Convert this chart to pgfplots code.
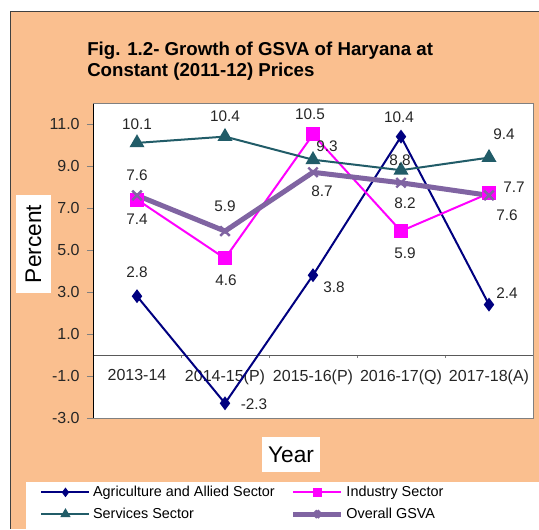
\documentclass[border=0pt]{standalone}
\usepackage{pgfplots}
\pgfplotsset{compat=1.18}
\usepackage{fontspec}
\setmainfont{Liberation Sans}
\definecolor{peach}{RGB}{250,191,143}
\definecolor{agri}{RGB}{0,0,128}
\definecolor{ind}{RGB}{255,0,255}
\definecolor{serv}{RGB}{33,92,104}
\definecolor{overall}{RGB}{128,100,162}

\pgfplotstableread{
x y dx dy
0 2.8 0 24
1 -2.3 29 -1
2 3.8 21 -12
3 10.4 -2 19
4 2.4 18 11
}\agri
\pgfplotstableread{
x y dx dy
0 7.4 0 -20
1 4.6 1 -22
2 10.5 -3 20
3 5.9 4 -22
4 7.7 25 6
}\ind
\pgfplotstableread{
x y dx dy
0 10.1 0 19
1 10.4 0 20
2 9.3 14 13
3 8.8 -1 10
4 9.4 15 23
}\serv
\pgfplotstableread{
x y dx dy
0 7.6 0 20
1 5.9 0 25
2 8.7 9 -19
3 8.2 4 -20
4 7.6 18 -20
}\overall

\pgfplotsset{
  lbl/.style={
    nodes near coords={\pgfmathprintnumber[fixed,fixed zerofill,precision=1,assume math mode=true]{\pgfplotspointmeta}},
    visualization depends on={\thisrow{dx} \as \dx},
    visualization depends on={\thisrow{dy} \as \dy},
    every node near coord/.style={anchor=center, inner sep=0pt, xshift={\dx*0.75pt}, yshift={\dy*0.75pt},
      font=\fontsize{11.5}{13}\selectfont, text=black!85}}
}

\begin{document}
\begin{tikzpicture}[x=0.75pt,y=0.75pt]
\useasboundingbox (0,0) rectangle (539,529);
\fill[peach] (10,0) rectangle (539,517);
\draw[black!75, line width=0.75pt] (10,0) -- (10,517) -- (539,517);
\node[font=\fontsize{14}{16}\selectfont\bfseries, anchor=base west, inner sep=0pt] at (87,473) {Fig. 1.2- Growth of GSVA of Haryana at};
\node[font=\fontsize{14}{16}\selectfont\bfseries, anchor=base west, inner sep=0pt] at (87,452) {Constant (2011-12) Prices};
\fill[white] (26,0) rectangle (539,47);
\fill[white] (16,236) rectangle (51,334);
\fill[white] (262,57) rectangle (320,92);
\node[rotate=90, font=\fontsize{17}{20}\selectfont] at (33.5,285) {Percent};
\node[font=\fontsize{17}{20}\selectfont] at (291,74.5) {Year};

\begin{axis}[
  at={(69.75pt,83.25pt)}, anchor=south west,
  width=330pt, height=236.25pt, scale only axis,
  xmin=-0.5, xmax=4.5, ymin=-3, ymax=12,
  axis x line*=middle, axis y line*=left,
  x axis line style={black!65}, y axis line style={black},
  xtick={0,...,4},
  xticklabels={2013-14,2014-15(P),2015-16(P),2016-17(Q),2017-18(A)},
  major x tick style={draw=none},
  minor xtick={0.5,1.5,2.5,3.5},
  minor tick length=2.25pt, major tick length=4.5pt,
  ytick={-3,-1,...,11},
  yticklabel style={xshift=-2pt, /pgf/number format/.cd, fixed, fixed zerofill, precision=1, assume math mode=true},
  xticklabel style={yshift=-3pt},
  tick align=outside,
  tick label style={font=\fontsize{12}{14}\selectfont, text=black!85},
  axis background/.style={fill=white},
  clip=false,
  legend columns=2,
  legend cell align=left,
  legend style={at={(axis description cs:-0.12,-0.207)}, anchor=north west,
    draw=none, fill=none, inner sep=0pt, row sep=3pt,
    font=\fontsize{10.8}{12}\selectfont,
    /tikz/column 2/.style={column sep=10pt}},
  legend image code/.code={\draw[mark repeat=2,mark phase=2,mark options={scale=0.6},#1] plot coordinates {(0pt,0pt) (18pt,0pt) (36pt,0pt)};},
]
\draw[black!50] (rel axis cs:0,0) -- (rel axis cs:1,0) -- (rel axis cs:1,1) -- (rel axis cs:0,1);
\addplot[agri, line width=1.5pt, mark=diamond*, mark size=4pt, lbl] table[x=x,y=y] {\agri};
\addplot[ind, line width=1.5pt, mark=square*, mark size=4.5pt, lbl] table[x=x,y=y] {\ind};
\addplot[serv, line width=1.5pt, mark=triangle*, mark size=5pt, lbl] table[x=x,y=y] {\serv};
\addplot[overall, line width=3.75pt, mark=x, mark size=5pt, mark options={line width=1.8pt}, lbl] table[x=x,y=y] {\overall};
\legend{Agriculture and Allied Sector, Industry Sector, Services Sector, Overall GSVA}
\end{axis}
\end{tikzpicture}
\end{document}
